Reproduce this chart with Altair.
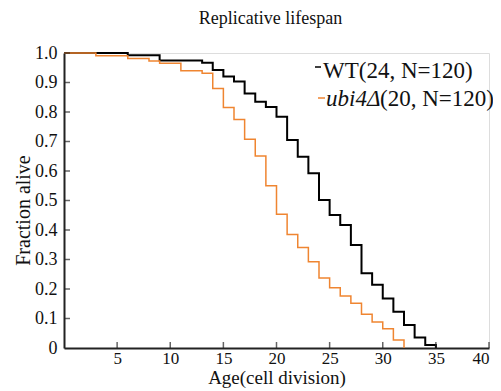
import altair as alt
import pandas as pd

# ---- data ----
wt_age = [0, 6, 9, 13, 14, 15, 16, 17, 18, 19, 20, 21, 22, 23, 24, 25, 26,
          27, 28, 29, 30, 31, 32, 33, 34, 35]
wt_frac = [1.0, 0.992, 0.975, 0.967, 0.942, 0.92, 0.903, 0.863, 0.835, 0.817,
           0.784, 0.705, 0.648, 0.592, 0.502, 0.451, 0.417, 0.349, 0.253,
           0.214, 0.168, 0.123, 0.078, 0.036, 0.01, 0.0]

ubi_age = [0, 3, 6, 8, 9, 11, 13, 14, 15, 16, 17, 18, 19, 20, 21, 22, 23, 24,
           25, 26, 27, 28, 29, 30, 31, 32]
ubi_frac = [1.0, 0.991, 0.981, 0.973, 0.965, 0.94, 0.931, 0.88, 0.815, 0.775,
            0.708, 0.651, 0.55, 0.453, 0.385, 0.341, 0.292, 0.237, 0.204,
            0.176, 0.152, 0.114, 0.088, 0.065, 0.027, 0.0]

series_names = ["WT", "ubi4"]
series_colors = ["#000000", "#EF8531"]
series_widths = [2.0, 1.5]

x_ticks = [5, 10, 15, 20, 25, 30, 35, 40]
y_ticks = [0.0, 0.1, 0.2, 0.3, 0.4, 0.5, 0.6, 0.7, 0.8, 0.9, 1.0]

FONT = "Liberation Serif"
W, H = 425, 295

df = pd.concat([
    pd.DataFrame({"age": wt_age, "frac": wt_frac, "series": "WT"}),
    pd.DataFrame({"age": ubi_age, "frac": ubi_frac, "series": "ubi4"}),
])

xscale = alt.Scale(domain=[0, 40], nice=False, zero=False)
yscale = alt.Scale(domain=[0, 1], nice=False)

x_axis = alt.Axis(values=x_ticks, ticks=False, grid=False,
                  domainColor="#222", domainWidth=2,
                  labelFont=FONT, labelFontSize=17, labelColor="#111",
                  labelPadding=2,
                  title="Age(cell division)", titleFont=FONT,
                  titleFontSize=19, titleFontWeight="normal",
                  titleColor="#111", titleBaseline="alphabetic", titleY=35)
y_axis = alt.Axis(values=y_ticks, ticks=False, grid=False,
                  domainColor="#222", domainWidth=2,
                  labelExpr="datum.value == 0 ? '0' : format(datum.value, '.1f')",
                  labelFont=FONT, labelFontSize=18, labelColor="#111",
                  labelPadding=7,
                  title="Fraction alive", titleFont=FONT,
                  titleFontSize=20, titleFontWeight="normal",
                  titleColor="#111", titlePadding=1, titleY=157)

lines = alt.Chart(df).mark_line(interpolate="step-after").encode(
    x=alt.X("age:Q", scale=xscale, axis=x_axis),
    y=alt.Y("frac:Q", scale=yscale, axis=y_axis),
    color=alt.Color("series:N", scale=alt.Scale(domain=series_names, range=series_colors), legend=None),
    strokeWidth=alt.StrokeWidth("series:N", scale=alt.Scale(domain=series_names, range=series_widths), legend=None),
)

xt = alt.Chart(pd.DataFrame({"age": x_ticks})).mark_tick(
    orient="vertical", size=6, thickness=1.5, color="#222"
).encode(x=alt.X("age:Q", scale=xscale, axis=x_axis), y=alt.value(H - 3))

yt = alt.Chart(pd.DataFrame({"frac": y_ticks[1:]})).mark_tick(
    orient="horizontal", size=6, thickness=1.5, color="#222"
).encode(y=alt.Y("frac:Q", scale=yscale, axis=y_axis), x=alt.value(3))

# title and legend as annotations
leg_df = pd.DataFrame({"k": [0]})
title_mark = alt.Chart(leg_df).mark_text(
    text="Replicative lifespan", font=FONT, fontSize=18, align="center",
    baseline="alphabetic", color="#111").encode(x=alt.value(W / 2 - 6), y=alt.value(-29))
leg1_line = alt.Chart(leg_df).mark_rule(color="#000", strokeWidth=1.5).encode(
    x=alt.value(251), x2=alt.value(257), y=alt.value(14))
leg1_text = alt.Chart(leg_df).mark_text(
    text="WT(24, N=120)", font=FONT, fontSize=23, align="left",
    baseline="alphabetic", color="#111").encode(x=alt.value(259), y=alt.value(25))
leg2_line = alt.Chart(leg_df).mark_rule(color="#EF8531", strokeWidth=1.5).encode(
    x=alt.value(254), x2=alt.value(261), y=alt.value(45))
leg2_text_a = alt.Chart(leg_df).mark_text(
    text="ubi4Δ", font=FONT, fontSize=23, fontStyle="italic", align="left",
    baseline="alphabetic", color="#111").encode(x=alt.value(262), y=alt.value(53))
leg2_text_b = alt.Chart(leg_df).mark_text(
    text="(20, N=120)", font=FONT, fontSize=23, align="left",
    baseline="alphabetic", color="#111").encode(x=alt.value(316), y=alt.value(53))

chart = alt.layer(
    lines, xt, yt, title_mark, leg1_line, leg1_text, leg2_line, leg2_text_a, leg2_text_b
).properties(
    width=W, height=H,
    autosize=alt.AutoSizeParams(type="none"),
    padding={"left": 56, "top": 45, "right": 4, "bottom": 40},
).configure_view(stroke=None).configure(background="white")

chart.save("out.html", embed_options={"renderer": "svg", "actions": False})
